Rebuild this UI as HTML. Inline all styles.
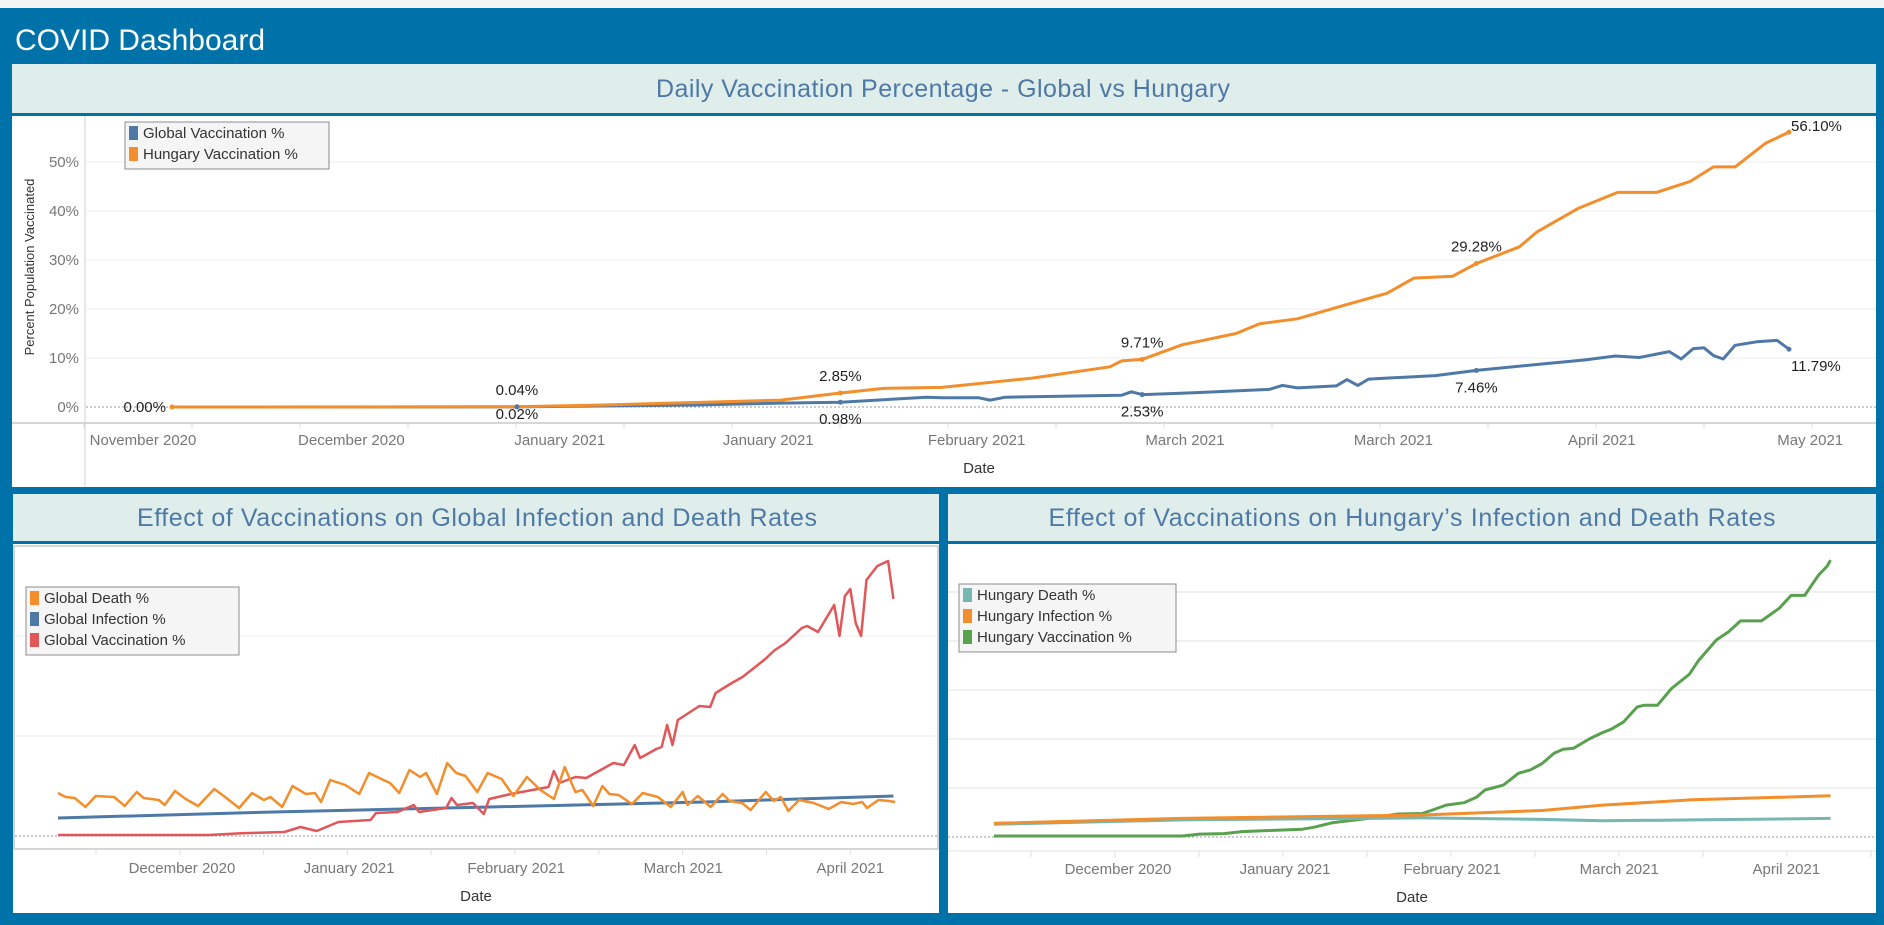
<!DOCTYPE html>
<html><head><meta charset="utf-8"><style>
html,body{margin:0;padding:0;background:#0072aa;}
svg{display:block;font-family:"Liberation Sans Narrow","Liberation Sans",sans-serif;}
</style></head><body>
<svg id="dash" width="1884" height="925" viewBox="0 0 1884 925" xmlns="http://www.w3.org/2000/svg">
<rect x="0" y="0" width="1884" height="8" fill="#f4f4f4"/>
<rect x="0" y="8" width="1884" height="917" fill="#0072aa"/>
<text x="15" y="50" fill="#fff" font-size="30" textLength="250">COVID Dashboard</text>

<!-- Panel 1 -->
<g>
<rect x="12" y="64" width="1864" height="49" fill="#dfeeeb"/>
<text x="943" y="97" text-anchor="middle" fill="#4e79a7" font-size="25" textLength="574">Daily Vaccination Percentage - Global vs Hungary</text>
<rect x="12" y="116" width="1864" height="371" fill="#fff"/>
<g id="p1"></g>
</g>

<!-- Panel 2 -->
<g>
<rect x="13" y="494" width="926" height="47" fill="#dfeeeb"/>
<text x="477" y="526" text-anchor="middle" fill="#4e79a7" font-size="25" textLength="680">Effect of Vaccinations on Global Infection and Death Rates</text>
<rect x="13" y="544" width="926" height="369" fill="#fff"/>
<rect x="14" y="546" width="924" height="303" fill="none" stroke="#c8c8c8" stroke-width="1.5"/>
<g id="p2"></g>
</g>

<!-- Panel 3 -->
<g>
<rect x="948" y="494" width="928" height="47" fill="#dfeeeb"/>
<text x="1412" y="526" text-anchor="middle" fill="#4e79a7" font-size="25" textLength="727">Effect of Vaccinations on Hungary’s Infection and Death Rates</text>
<rect x="948" y="544" width="928" height="369" fill="#fff"/>
<g id="p3"></g>
</g>
</svg>
<script>
// ---------- Chart 1 data ----------
const p1HunDays = [0,32,40,56.5,62,66,71.4,79.8,87,88.1,90,93.7,98.7,100.9,104.4,108.8,112.7,115.2,118.8,121,125,126.6,130.5,134.1,137.7,140.8,143,145,147.8,150];
const p1HunVals = [0,0.04,0.4,1.4,2.85,3.8,4.0,5.9,8.2,9.4,9.71,12.7,15,17,18,20.8,23.2,26.3,26.7,29.28,32.7,35.7,40.6,43.8,43.8,46,49,49,53.8,56.1];
const p1GloDays = [0,32,48.6,56.5,62,70,71.4,74.8,75.9,77.3,88.1,89,90,94.8,101.8,103,104.4,108,109,110,111,117.2,121,127.2,131,133.9,136.1,138.9,140,141.1,142.1,143,143.9,145,147,148.9,150];
const p1GloVals = [0,0.02,0.4,0.8,0.98,2.0,1.9,1.9,1.4,2.0,2.4,3.1,2.53,2.9,3.6,4.4,3.9,4.3,5.6,4.4,5.7,6.4,7.46,8.8,9.6,10.4,10.1,11.3,9.8,11.9,12.1,10.5,9.8,12.6,13.3,13.6,11.79];
const p1YTicks = [0,10,20,30,40,50];
const p1XLabels = ["November 2020","December 2020","January 2021","January 2021","February 2021","March 2021","March 2021","April 2021","May 2021"];
const p1HunMarks = [0,32,62,90,121,150];
const p1HunMarkText = ["0.00%","0.04%","2.85%","9.71%","29.28%","56.10%"];
const p1GloMarks = [32,62,90,121,150];
const p1GloMarkText = ["0.02%","0.98%","2.53%","7.46%","11.79%"];

// ---------- Chart 2 data ----------
const p2VacDays = [0,28,34,42,45,48,52,58,59,63,66,67,72,73,74,77,79,80,84,91,92,93,96,98,103,105,107,108,111,112,113,114,115,117,119,121,122,125,127,131,133,135,138,139,141,144,145,146,147,148,149,150,152,154,155];
const p2VacVals = [0.01,0.01,0.027,0.04,0.09,0.05,0.14,0.16,0.23,0.24,0.31,0.24,0.28,0.38,0.31,0.33,0.22,0.37,0.42,0.49,0.65,0.53,0.59,0.58,0.73,0.71,0.91,0.78,0.87,0.89,1.11,0.91,1.16,1.23,1.30,1.29,1.43,1.53,1.59,1.76,1.86,1.93,2.08,2.10,2.04,2.31,2.0,2.4,2.47,2.13,2.0,2.56,2.7,2.75,2.37];
const p2DeathZx = [97,110,125,143,160,190,208,228,240,265,275,292,310,330,357,375,398,420,440,450,470,487,510,525,535,550,575,598,615,635,650,665,682,700,710,728,745,760,775,795,812,835,855,877,900,922,940,958,970,988,1003,1015,1030,1052,1070,1095,1117,1137,1145,1162,1183,1203,1215,1235,1250,1275,1288,1300,1312,1330,1355,1380,1400,1420,1435,1443,1462,1480,1490];
const p2DeathDays = p2DeathZx.map(z => Math.round((z-97)/8.97*10)/10);
const p2DeathVals = [0.43,0.39,0.38,0.29,0.40,0.39,0.30,0.44,0.38,0.36,0.31,0.45,0.37,0.30,0.47,0.39,0.28,0.43,0.36,0.39,0.29,0.50,0.42,0.43,0.34,0.56,0.51,0.42,0.63,0.57,0.53,0.43,0.66,0.59,0.63,0.42,0.73,0.63,0.60,0.44,0.63,0.57,0.40,0.59,0.46,0.37,0.69,0.44,0.46,0.30,0.50,0.42,0.41,0.32,0.43,0.39,0.29,0.44,0.31,0.40,0.29,0.42,0.35,0.33,0.26,0.44,0.35,0.39,0.25,0.36,0.33,0.27,0.34,0.32,0.34,0.28,0.36,0.35,0.34];
const p2InfDays = [0,40,80,120,155];
const p2InfVals = [0.18,0.24,0.29,0.34,0.40];
const p2Grid = [0,1,2];
const p2XLabels = ["December 2020","January 2021","February 2021","March 2021","April 2021"];
const p2LabelDays = [23,54,85,116,147];

// ---------- Chart 3 data ----------
const p3VacDays = [0,34.9,38.2,42.7,46,50.5,57.2,59.4,62.7,67.2,69.4,75,79.4,81.1,83.9,87.2,89.5,91.1,94.5,97.3,99.5,101.7,103.9,105.6,107.5,110.6,112.9,114.5,116.8,119.3,120.6,123.1,125.7,129,130.7,134,136.3,138.5,142.4,145.7,147.9,150.4,153,154.6,155.2];
const p3VacVals = [0.02,0.02,0.06,0.07,0.11,0.13,0.16,0.20,0.29,0.35,0.38,0.47,0.48,0.54,0.65,0.70,0.81,0.96,1.06,1.30,1.37,1.50,1.71,1.79,1.81,2.01,2.13,2.20,2.35,2.65,2.69,2.69,3.03,3.32,3.60,4.02,4.19,4.41,4.41,4.67,4.93,4.93,5.35,5.53,5.65];
const p3InfDays = [0,34.9,79.4,101.7,112.9,129.6,155.2];
const p3InfVals = [0.28,0.38,0.45,0.54,0.65,0.76,0.84];
const p3DeathDays = [0,34.9,79.4,101.7,112.9,129.6,155.2];
const p3DeathVals = [0.26,0.35,0.39,0.36,0.33,0.35,0.38];
const p3Grid = [1,2,3,4,5];
const p3XLabels = ["December 2020","January 2021","February 2021","March 2021","April 2021"];
const p3LabelDays = [23,54,85,116,147];

const NS = "http://www.w3.org/2000/svg";
function mk(parent, tag, attrs, text){
  const e = document.createElementNS(NS, tag);
  for (const k in attrs) e.setAttribute(k, attrs[k]);
  if (text !== undefined) e.textContent = text;
  parent.appendChild(e);
  return e;
}
function pathD(days, vals, sx, sy){
  return days.map((d,i)=>(i?'L':'M')+sx(d).toFixed(1)+','+sy(vals[i]).toFixed(1)).join(' ');
}
function legend(g, x, y, w, items){
  const box = mk(g,'rect',{x:x,y:y,width:w,height:items.length*21+5,fill:'#f5f5f5',stroke:'#8c8c8c','stroke-width':1});
  
  
  items.forEach((it,i)=>{
    const sw = mk(g,'rect',{x:x+4,y:y+4+i*21,width:9,height:14,fill:it[1]});
    
    
    const t = mk(g,'text',{x:x+18,y:y+16+i*21,'font-size':15,fill:'#333'},it[0]);
    
    
  });
}

// ---------- Chart 1 ----------
(function(){
  const g = document.getElementById('p1');
  const sx = d => 172 + d*10.78;
  const sy = v => 407 - v*4.9;
  p1YTicks.forEach(t=>{
    if (t>0){
      const l = mk(g,'line',{x1:86,x2:1876,y1:sy(t),y2:sy(t),stroke:'#ececec','stroke-width':1});
      
      
    }
    const tl = mk(g,'text',{x:79,y:sy(t)+5,'text-anchor':'end','font-size':15,fill:'#777'},t+'%');
    
    
  });
  const z = mk(g,'line',{x1:86,x2:1876,y1:sy(0),y2:sy(0),stroke:'#999','stroke-width':1,'stroke-dasharray':'2,2'});
  
  
  const ya = mk(g,'line',{x1:85,x2:85,y1:116,y2:487,stroke:'#d0d0d0','stroke-width':1});
  
  
  const xa = mk(g,'line',{x1:12,x2:1876,y1:423,y2:423,stroke:'#c8c8c8','stroke-width':1.5});
  
  
  for (let i=0;i<17;i++){
    const tk = mk(g,'line',{x1:84+i*108,x2:84+i*108,y1:423,y2:428,stroke:'#ddd'});
    
    
  }
  p1XLabels.forEach((lab,i)=>{
    const t = mk(g,'text',{x:143+i*208.4,y:445,'text-anchor':'middle','font-size':15,fill:'#777'},lab);
    
    
  });
  const xt = mk(g,'text',{x:979,y:473,'text-anchor':'middle','font-size':15,fill:'#333'},'Date');
  
  
  const yt = mk(g,'text',{x:0,y:0,transform:'translate(34,267) rotate(-90)','text-anchor':'middle','font-size':13,fill:'#333','font-family':'Liberation Sans, sans-serif'},'Percent Population Vaccinated');
  
  
  const gl = mk(g,'path',{d:pathD(p1GloDays,p1GloVals,sx,sy),fill:'none',stroke:'#4e79a7','stroke-width':3,'stroke-linejoin':'round'});
  
  
  const hl = mk(g,'path',{d:pathD(p1HunDays,p1HunVals,sx,sy),fill:'none',stroke:'#f28e2b','stroke-width':3,'stroke-linejoin':'round'});
  
  
  const val = (days,vals,d)=>vals[days.indexOf(d)];
  p1HunMarks.forEach((d,i)=>{
    const v = val(p1HunDays,p1HunVals,d);
    const c = mk(g,'circle',{cx:sx(d),cy:sy(v),r:2.5,fill:'#f28e2b'});
    
    
    let x = sx(d), y = sy(v)-12, anc='middle';
    if (i===0){x = sx(d)-6; y = sy(v)+5; anc='end';}
    if (i===p1HunMarks.length-1){x = sx(d)+2; y = sy(v)-1; anc='start';}
    const t = mk(g,'text',{x:x,y:y,'text-anchor':anc,'font-size':15,fill:'#222'},p1HunMarkText[i]);
    
    
  });
  p1GloMarks.forEach((d,i)=>{
    const v = val(p1GloDays,p1GloVals,d);
    const c = mk(g,'circle',{cx:sx(d),cy:sy(v),r:2.5,fill:'#4e79a7'});
    
    
    let x = sx(d), y = sy(v)+22, anc='middle';
    if (i===0) y = sy(v)+12;
    if (i===p1GloMarks.length-1){x = sx(d)+2; y = sy(v)+22; anc='start';}
    const t = mk(g,'text',{x:x,y:y,'text-anchor':anc,'font-size':15,fill:'#222'},p1GloMarkText[i]);
    
    
  });
  legend(g,125,122,204,[['Global Vaccination %','#4e79a7'],['Hungary Vaccination %','#f28e2b']]);
})();

// ---------- Chart 2 ----------
(function(){
  const g = document.getElementById('p2');
  const sx = d => 58 + d*5.39;
  const sy = v => 836 - v*100;
  p2Grid.forEach(t=>{
    const l = mk(g,'line',{x1:15,x2:937,y1:sy(t),y2:sy(t),stroke:t===0?'#999':'#ececec','stroke-width':1,'stroke-dasharray':t===0?'2,2':'none'});
    
    
  });
  for (let i=0;i<10;i++){
    const tk = mk(g,'line',{x1:96+i*83.8,x2:96+i*83.8,y1:849,y2:855,stroke:'#ddd'});
    
    
  }
  p2XLabels.forEach((lab,i)=>{
    const t = mk(g,'text',{x:sx(p2LabelDays[i]),y:873,'text-anchor':'middle','font-size':15,fill:'#777'},lab);
    
    
  });
  const xt = mk(g,'text',{x:476,y:901,'text-anchor':'middle','font-size':15,fill:'#333'},'Date');
  
  
  const il = mk(g,'path',{d:pathD(p2InfDays,p2InfVals,sx,sy),fill:'none',stroke:'#4e79a7','stroke-width':3});
  
  
  const vl = mk(g,'path',{d:pathD(p2VacDays,p2VacVals,sx,sy),fill:'none',stroke:'#e15759','stroke-width':2.5,'stroke-linejoin':'round'});
  
  
  const dl = mk(g,'path',{d:pathD(p2DeathDays,p2DeathVals,sx,sy),fill:'none',stroke:'#f28e2b','stroke-width':2.5,'stroke-linejoin':'round'});
  
  
  legend(g,26,587,213,[['Global Death %','#f28e2b'],['Global Infection %','#4e79a7'],['Global Vaccination %','#e15759']]);
})();

// ---------- Chart 3 ----------
(function(){
  const g = document.getElementById('p3');
  const sx = d => 994 + d*5.39;
  const sy = v => 837 - v*49;
  p3Grid.forEach(t=>{
    const l = mk(g,'line',{x1:948,x2:1876,y1:sy(t),y2:sy(t),stroke:'#ececec','stroke-width':1.5});
    
    
  });
  const z = mk(g,'line',{x1:948,x2:1876,y1:sy(0),y2:sy(0),stroke:'#999','stroke-width':1,'stroke-dasharray':'2,2'});
  
  
  const xa = mk(g,'line',{x1:948,x2:1876,y1:851,y2:851,stroke:'#ececec','stroke-width':1.5});
  
  
  for (let i=0;i<11;i++){
    const tk = mk(g,'line',{x1:1031+i*84,x2:1031+i*84,y1:851,y2:857,stroke:'#ddd'});
    
    
  }
  p3XLabels.forEach((lab,i)=>{
    const t = mk(g,'text',{x:sx(p3LabelDays[i]),y:874,'text-anchor':'middle','font-size':15,fill:'#777'},lab);
    
    
  });
  const xt = mk(g,'text',{x:1412,y:902,'text-anchor':'middle','font-size':15,fill:'#333'},'Date');
  
  
  const vl = mk(g,'path',{d:pathD(p3VacDays,p3VacVals,sx,sy),fill:'none',stroke:'#59a14f','stroke-width':3,'stroke-linejoin':'round'});
  
  
  const dl = mk(g,'path',{d:pathD(p3DeathDays,p3DeathVals,sx,sy),fill:'none',stroke:'#76b7b2','stroke-width':3});
  
  
  const il = mk(g,'path',{d:pathD(p3InfDays,p3InfVals,sx,sy),fill:'none',stroke:'#f28e2b','stroke-width':3});
  
  
  legend(g,959,584,217,[['Hungary Death %','#76b7b2'],['Hungary Infection %','#f28e2b'],['Hungary Vaccination %','#59a14f']]);
})();
</script>
</body></html>
